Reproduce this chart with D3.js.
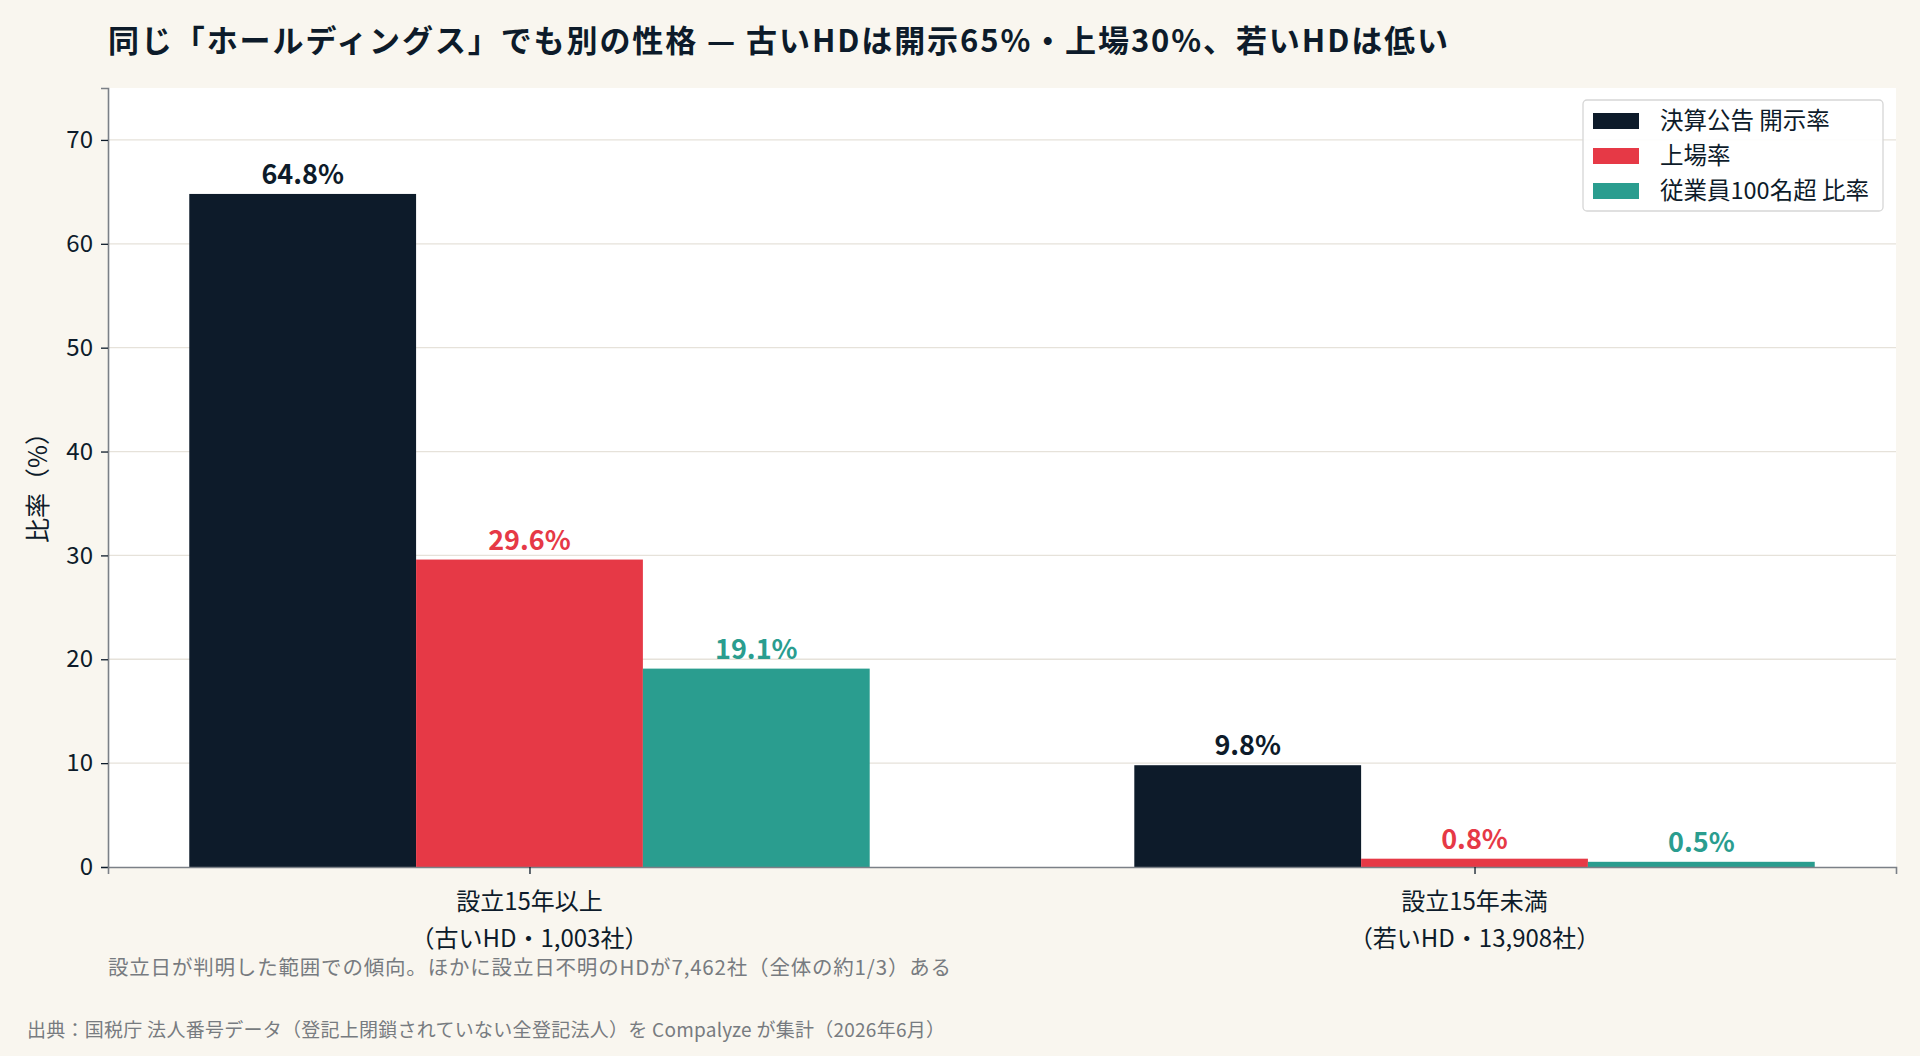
<!DOCTYPE html>
<html>
<head>
<meta charset="utf-8">
<script src="https://cdn.jsdelivr.net/npm/d3@7"></script>
<style>
  html, body { margin: 0; padding: 0; background: #f9f6ef; }
  svg { display: block; font-family: "Noto Sans CJK JP", "Noto Sans", sans-serif; }
</style>
</head>
<body>
<div id="chart"></div>
<script>
(function () {
  // data
  var categories = [['設立15年以上', '（古いHD・1,003社）'], ['設立15年未満', '（若いHD・13,908社）']]
  var seriesNames = ['決算公告 開示率', '上場率', '従業員100名超 比率']
  var seriesColors = ['#0d1b2a', '#e63946', '#2a9d8f']
  var disclosure = [64.8, 9.8]
  var listed = [29.6, 0.8]
  var over100 = [19.1, 0.5]
  var yTicks = [0, 10, 20, 30, 40, 50, 60, 70]

  var seriesValues = [disclosure, listed, over100]

  var width = 1920
  var height = 1056
  var margin = { top: 88, right: 24, bottom: 189, left: 108 }
  var innerW = width - margin.left - margin.right
  var innerH = height - margin.top - margin.bottom

  var svg = d3.select('#chart')
    .append('svg')
    .attr('width', width)
    .attr('height', height)

  svg.append('rect')
    .attr('width', width).attr('height', height)
    .attr('fill', '#f9f6ef')

  var g = svg.append('g')
    .attr('transform', 'translate(' + margin.left + ',' + margin.top + ')')

  g.append('rect')
    .attr('width', innerW).attr('height', innerH)
    .attr('fill', '#ffffff')

  // scales
  var barW = 0.24
  var xScale = d3.scaleLinear()
    .domain([-0.446, 1.446])
    .range([0, innerW])

  var yScale = d3.scaleLinear()
    .domain([0, 75])
    .range([innerH, 0])

  // grid
  g.append('g')
    .selectAll('line')
    .data(yTicks.filter(d => d > 0))
    .enter().append('line')
    .attr('x1', 0).attr('x2', innerW)
    .attr('y1', d => yScale(d)).attr('y2', d => yScale(d))
    .attr('stroke', '#e6e2da')
    .attr('stroke-width', 1.3)

  // bars
  seriesValues.forEach(function (vals, s) {
    var offset = (s - 1) * barW
    g.append('g')
      .selectAll('rect')
      .data(vals)
      .enter().append('rect')
      .attr('x', (d, i) => xScale(i + offset - barW / 2))
      .attr('width', xScale(barW) - xScale(0))
      .attr('y', d => yScale(d))
      .attr('height', d => innerH - yScale(d))
      .attr('fill', seriesColors[s])

    g.append('g')
      .selectAll('text')
      .data(vals)
      .enter().append('text')
      .attr('x', (d, i) => xScale(i + offset))
      .attr('y', d => yScale(d) - 10)
      .attr('text-anchor', 'middle')
      .attr('font-size', 27)
      .attr('font-weight', 700)
      .attr('fill', seriesColors[s])
      .text(d => d.toFixed(1) + '%')
  })

  // axes
  var yAxis = d3.axisLeft(yScale).tickValues(yTicks).tickSize(7).tickPadding(8)
  var yG = g.append('g').attr('class', 'axis y-axis').call(yAxis)
  yG.select('.domain').attr('stroke', '#7b8087').attr('stroke-width', 1.6)
  yG.selectAll('.tick line').attr('stroke', '#0d1b2a').attr('stroke-width', 1.3)
  yG.selectAll('.tick text')
    .attr('font-size', 24).attr('fill', '#0d1b2a')
    .style('font-family', '"Noto Sans CJK JP", sans-serif')

  var xAxis = d3.axisBottom(xScale).tickValues([0, 1]).tickSize(7).tickFormat('')
  var xG = g.append('g')
    .attr('class', 'axis x-axis')
    .attr('transform', 'translate(0,' + innerH + ')')
    .call(xAxis)
  xG.select('.domain').attr('stroke', '#7b8087').attr('stroke-width', 1.6)
  xG.selectAll('.tick line').attr('stroke', '#0d1b2a').attr('stroke-width', 1.3)

  var xLabels = g.append('g')
    .selectAll('text')
    .data(categories)
    .enter().append('text')
    .attr('text-anchor', 'middle')
    .attr('font-size', 24)
    .attr('fill', '#0d1b2a')
  xLabels.each(function (d, i) {
    var t = d3.select(this)
    d.forEach(function (line, k) {
      t.append('tspan')
        .attr('x', xScale(i))
        .attr('y', innerH + 43 + k * 37)
        .text(line)
    })
  })

  // y label
  svg.append('text')
    .attr('transform', 'translate(47,' + (margin.top + innerH / 2 + 4) + ') rotate(-90)')
    .attr('text-anchor', 'middle')
    .attr('font-size', 25)
    .attr('fill', '#0d1b2a')
    .text('比率（%）')

  // title
  svg.append('text')
    .attr('x', 108)
    .attr('y', 52)
    .attr('font-size', 31)
    .attr('font-weight', 700)
    .attr('fill', '#0d1b2a')
    .attr('textLength', 1340)
    .attr('lengthAdjust', 'spacing')
    .text('同じ「ホールディングス」でも別の性格 — 古いHDは開示65%・上場30%、若いHDは低い')

  // legend
  var legend = svg.append('g').attr('transform', 'translate(1583,100)')
  legend.append('rect')
    .attr('width', 300).attr('height', 111)
    .attr('rx', 4)
    .attr('fill', '#ffffff')
    .attr('fill-opacity', 0.9)
    .attr('stroke', '#d6d6d6')
    .attr('stroke-width', 1.3)
  seriesNames.forEach(function (name, s) {
    legend.append('rect')
      .attr('x', 10).attr('y', 13 + s * 35)
      .attr('width', 46).attr('height', 16)
      .attr('fill', seriesColors[s])
    legend.append('text')
      .attr('x', 77).attr('y', 29 + s * 35)
      .attr('font-size', 23.5)
      .attr('fill', '#0d1b2a')
      .text(name)
  })

  // notes
  svg.append('text')
    .attr('x', 108).attr('y', 975)
    .attr('font-size', 20.5)
    .attr('fill', '#777b80')
    .attr('textLength', 843)
    .attr('lengthAdjust', 'spacing')
    .text('設立日が判明した範囲での傾向。ほかに設立日不明のHDが7,462社（全体の約1/3）ある')

  svg.append('text')
    .attr('x', 27).attr('y', 1037)
    .attr('font-size', 19)
    .attr('fill', '#777b80')
    .attr('textLength', 918)
    .attr('lengthAdjust', 'spacing')
    .text('出典：国税庁 法人番号データ（登記上閉鎖されていない全登記法人）を Compalyze が集計（2026年6月）')
})()
</script>
</body>
</html>
